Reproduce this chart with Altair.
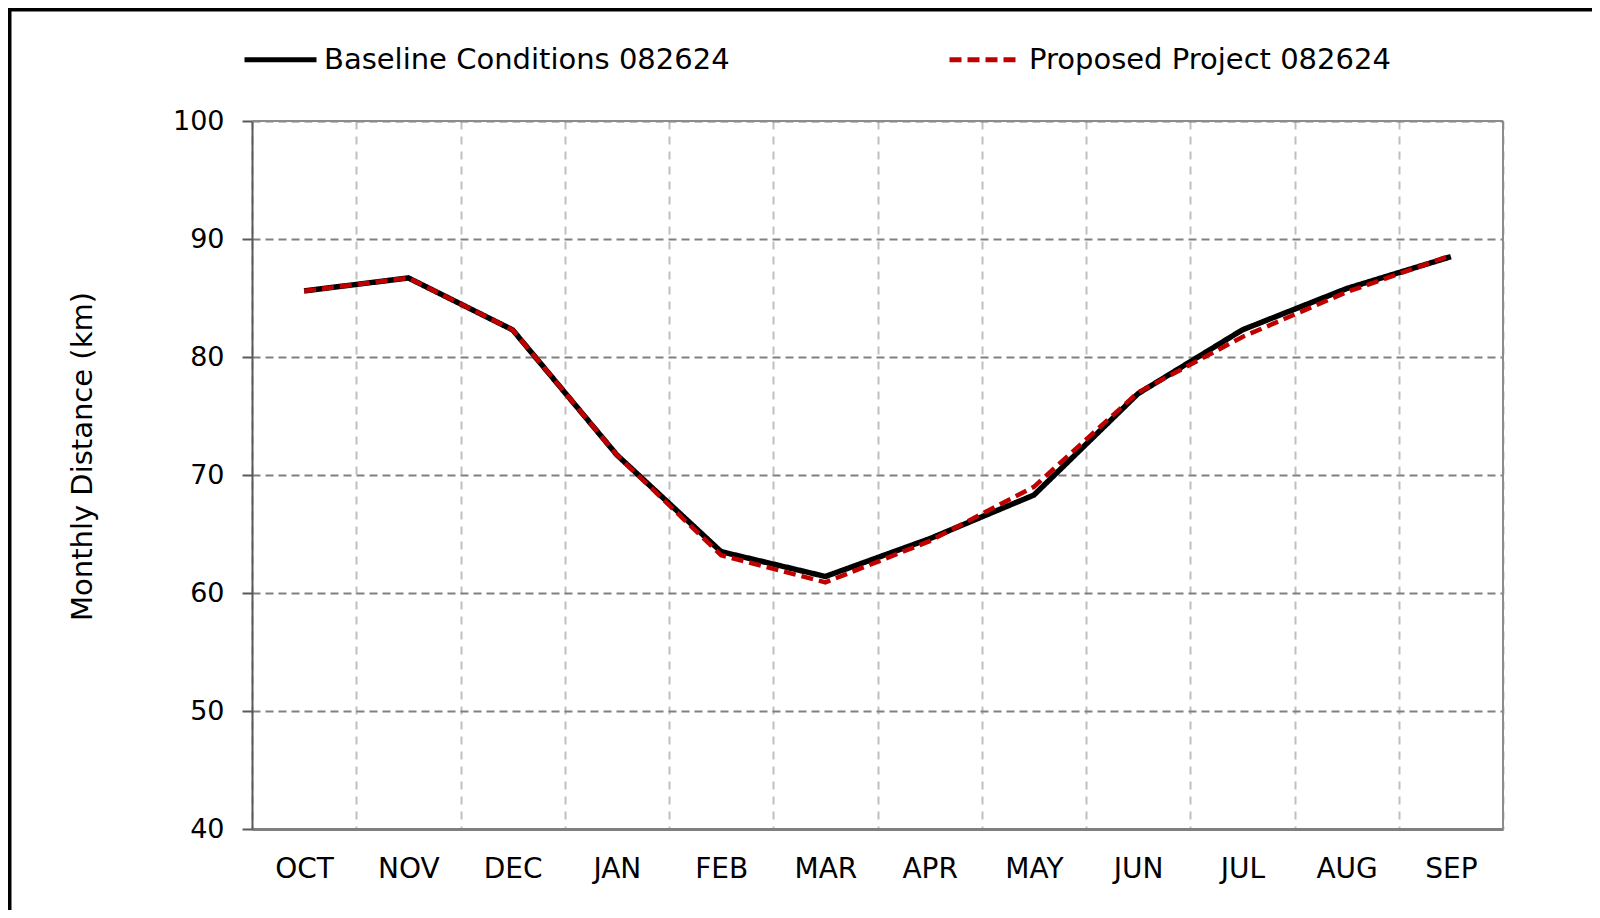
import altair as alt
import pandas as pd

months = ["OCT", "NOV", "DEC", "JAN", "FEB", "MAR", "APR", "MAY", "JUN", "JUL", "AUG", "SEP"]
baseline = [85.6, 86.7, 82.3, 71.7, 63.5, 61.4, 64.6, 68.3, 76.9, 82.3, 85.8, 88.5]
proposed = [85.6, 86.7, 82.3, 71.7, 63.2, 60.9, 64.4, 69.0, 77.0, 81.7, 85.5, 88.6]
series_names = ["Baseline Conditions 082624", "Proposed Project 082624"]
y_ticks = [40, 50, 60, 70, 80, 90, 100]

rows = []
for m, v in zip(months, baseline):
    rows.append({"month": m, "value": v, "series": series_names[0]})
for m, v in zip(months, proposed):
    rows.append({"month": m, "value": v, "series": series_names[1]})
df = pd.DataFrame(rows)

FONT = "DejaVu Sans"
W, H = 1251, 708
PL, PT, PR, PB = 244, 113, 89, 81

x_enc = alt.X(
    "month:N",
    sort=months,
    scale=alt.Scale(paddingInner=0, paddingOuter=0),
    axis=alt.Axis(
        title=None,
        labelFont=FONT,
        labelFontSize=28,
        labelColor="black",
        labelAngle=0,
        labelPadding=26,
        ticks=False,
        tickSize=0,
        tickBand="extent",
        grid=True,
        gridColor="#BFBFBF",
        gridDash=[8, 7],
        gridWidth=2,
        domainColor="#7F7F7F",
        domainWidth=3,
    ),
)
y_enc = alt.Y(
    "value:Q",
    scale=alt.Scale(domain=[40, 100], nice=False, zero=False),
    axis=alt.Axis(
        title="Monthly Distance (km)",
        values=y_ticks,
        labelFont=FONT,
        labelFontSize=27,
        labelColor="black",
        labelPadding=18,
        tickSize=10,
        tickColor="#595959",
        tickWidth=2,
        grid=True,
        gridColor="#808080",
        gridDash=[8, 5],
        gridWidth=2,
        domainColor="#595959",
        domainWidth=2,
        titleFont=FONT,
        titleFontSize=29,
        titleFontWeight="normal",
        titleColor="black",
        titleX=-170,
        titleY=335,
        titleAngle=270,
        titleAlign="center",
        titleBaseline="middle",
    ),
)
color_enc = alt.Color(
    "series:N",
    scale=alt.Scale(domain=series_names, range=["#000000", "#C00000"]),
    title=None,
    legend=alt.Legend(
        orient="none",
        legendX=-10,
        legendY=-100,
        direction="horizontal",
        columns=2,
        columnPadding=209,
        padding=0,
        symbolType="stroke",
        symbolSize=5184,
        symbolStrokeWidth=5,
        labelOffset=5,
        labelFont=FONT,
        labelFontSize=29,
        labelColor="black",
        labelLimit=600,
    ),
)
dash_enc = alt.StrokeDash(
    "series:N",
    scale=alt.Scale(domain=series_names, range=[[1, 0], [12, 6]]),
    title=None,
)

base = alt.Chart(df).encode(x=x_enc, y=y_enc, color=color_enc, strokeDash=dash_enc)
line_base = base.transform_filter(alt.datum.series == series_names[0]).mark_line(strokeWidth=5.5)
line_prop = base.transform_filter(alt.datum.series == series_names[1]).mark_line(strokeWidth=4.5)

one_row = pd.DataFrame({"k": [0]})
# plot-area border (top and right), drawn above the gridlines
border_top = alt.Chart(one_row).mark_rule(color="#8C8C8C", strokeWidth=2).encode(
    y=alt.value(0), x=alt.value(0), x2=alt.value(W)
)
border_right = alt.Chart(one_row).mark_rule(color="#8C8C8C", strokeWidth=2).encode(
    x=alt.value(W), y=alt.value(0), y2=alt.value(H)
)
# outer picture frame (left and top)
frame_left = alt.Chart(one_row).mark_rule(color="black", strokeWidth=3.5).encode(
    x=alt.value(-PL + 1.75), y=alt.value(-PT), y2=alt.value(H + PB)
)
frame_top = alt.Chart(one_row).mark_rule(color="black", strokeWidth=3.5).encode(
    y=alt.value(-PT + 1.75), x=alt.value(-PL), x2=alt.value(W + PR)
)

chart = (
    alt.layer(border_top, border_right, line_base, line_prop, frame_left, frame_top)
    .properties(
        width=W,
        height=H,
        autosize=alt.AutoSizeParams(type="none"),
        padding={"left": PL, "top": PT, "right": PR, "bottom": PB},
    )
    .configure_view(stroke=None)
    .configure(background="white")
)

chart.save("out.html", embed_options={"renderer": "svg", "actions": False})
